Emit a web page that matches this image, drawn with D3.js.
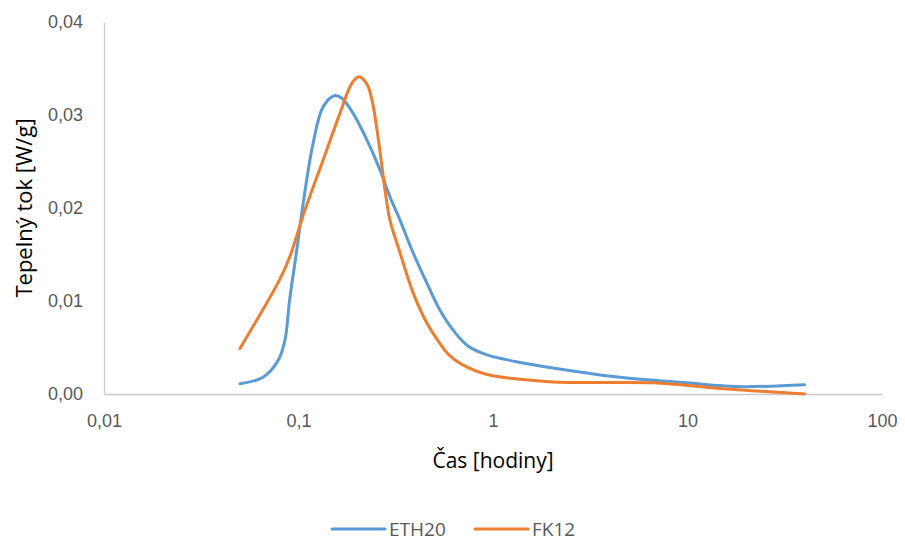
<!DOCTYPE html>
<html>
<head>
<meta charset="utf-8">
<script src="https://cdn.jsdelivr.net/npm/d3@7"></script>
<style>
  body { margin: 0; background: #fff; }
  svg { font-family: "Open Sans", sans-serif; }
</style>
</head>
<body>
<svg id="chart" width="905" height="541"></svg>
<script>
// series names
var seriesNames = ["ETH20", "FK12"];

// time [h] and heat flow [W/g]
var ethTime = [0.05, 0.0657, 0.0785, 0.0852, 0.09, 0.098, 0.104, 0.119, 0.134, 0.154, 0.1673, 0.1906, 0.225, 0.2624, 0.2953, 0.3325, 0.388, 0.4578, 0.534, 0.638, 0.75, 0.931, 1.3, 2.03, 4.5, 9.9, 17.9, 40];
var ethFlow = [0.0011, 0.0018, 0.0036, 0.0058, 0.0101, 0.0155, 0.0195, 0.0270, 0.0309, 0.0321, 0.0318, 0.0302, 0.0273, 0.0241, 0.0212, 0.0187, 0.0152, 0.0119, 0.0090, 0.0066, 0.0051, 0.0042, 0.0035, 0.0028, 0.0018, 0.0012, 0.0008, 0.0010];

var fkTime = [0.05, 0.080, 0.090, 0.108, 0.134, 0.1635, 0.188, 0.205, 0.225, 0.2387, 0.2533, 0.2688, 0.2785, 0.2953, 0.3325, 0.388, 0.4578, 0.515, 0.601, 0.75, 0.931, 2.03, 6.65, 14.7, 40];
var fkFlow = [0.0049, 0.0123, 0.0147, 0.0198, 0.0252, 0.0302, 0.0334, 0.0341, 0.0333, 0.0316, 0.0284, 0.0244, 0.0219, 0.0187, 0.0152, 0.0109, 0.0076, 0.0059, 0.0041, 0.0028, 0.0021, 0.0013, 0.0012, 0.0006, 0.0000];

// axis ticks
var xTicks = [0.01, 0.1, 1, 10, 100];
var xTickLabels = ["0,01", "0,1", "1", "10", "100"];
var yTicks = [0, 0.01, 0.02, 0.03, 0.04];
var yTickLabels = ["0,00", "0,01", "0,02", "0,03", "0,04"];

var colors = ["#5B9BD5", "#ED7D31"];

var svg = d3.select("#chart");

var x = d3.scaleLog().domain([0.01, 100]).range([104, 882]);
var y = d3.scaleLinear().domain([0, 0.04]).range([394, 22]);

// axes
var xAxis = d3.axisBottom(x)
    .tickValues(xTicks)
    .tickSize(0)
    .tickPadding(20)
    .tickFormat(function (d, i) { return xTickLabels[i]; });

var yAxis = d3.axisLeft(y)
    .tickValues(yTicks)
    .tickSize(0)
    .tickPadding(21)
    .tickFormat(function (d, i) { return yTickLabels[i]; });

var gx = svg.append("g")
    .attr("transform", "translate(0," + y(0) + ")")
    .call(xAxis);

var gy = svg.append("g")
    .attr("transform", "translate(" + x(0.01) + ",0)")
    .call(yAxis);

[gx, gy].forEach(function (g) {
    g.select(".domain").attr("stroke", "#c9c9c9").attr("stroke-width", 1.3);
    g.selectAll("text")
        .attr("fill", "#595959")
        .style("font-size", "18px");
});

// axis titles
svg.append("text")
    .attr("x", (x.range()[0] + x.range()[1]) / 2)
    .attr("y", 468)
    .attr("text-anchor", "middle")
    .attr("fill", "#000")
    .style("font-size", "21px")
    .text("Čas [hodiny]");

svg.append("text")
    .attr("transform", "translate(32," + (y.range()[0] + y.range()[1]) / 2 + ") rotate(-90)")
    .attr("text-anchor", "middle")
    .attr("fill", "#000")
    .style("font-size", "22px")
    .text("Tepelný tok [W/g]");

// lines
var series = [
    ethTime.map(function (t, i) { return [t, ethFlow[i]]; }),
    fkTime.map(function (t, i) { return [t, fkFlow[i]]; })
];

var line = d3.line()
    .x(function (d) { return x(d[0]); })
    .y(function (d) { return y(d[1]); })
    .curve(d3.curveCatmullRom.alpha(0.5));

svg.selectAll(".series")
    .data(series)
    .enter()
    .append("path")
    .attr("class", "series")
    .attr("fill", "none")
    .attr("stroke", function (d, i) { return colors[i]; })
    .attr("stroke-width", 3)
    .attr("stroke-linecap", "round")
    .attr("stroke-linejoin", "round")
    .attr("d", line);

// legend
var legendX = [332, 475];
var legend = svg.selectAll(".legend")
    .data(seriesNames)
    .enter()
    .append("g")
    .attr("class", "legend")
    .attr("transform", function (d, i) { return "translate(" + legendX[i] + ",529)"; });

legend.append("line")
    .attr("x1", 0).attr("x2", 53)
    .attr("stroke", function (d, i) { return colors[i]; })
    .attr("stroke-width", 3)
    .attr("stroke-linecap", "round");

legend.append("text")
    .attr("x", 57)
    .attr("dy", "0.35em")
    .attr("fill", "#595959")
    .style("font-size", "19px")
    .text(function (d) { return d; });
</script>
</body>
</html>
